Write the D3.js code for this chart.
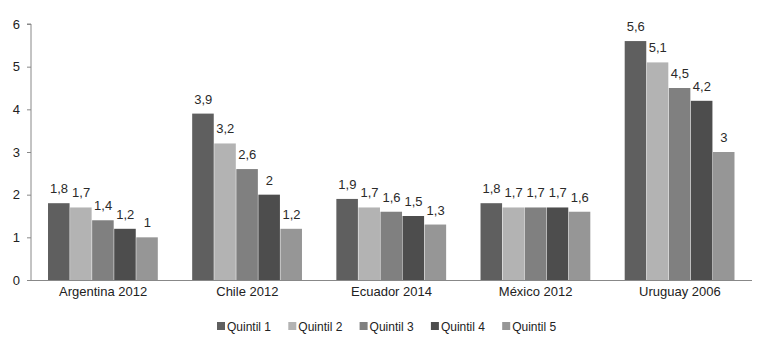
<!DOCTYPE html>
<html><head><meta charset="utf-8">
<script src="https://cdn.jsdelivr.net/npm/d3@7"></script>
<style>body{margin:0;background:#fff}svg{display:block}text{font-family:"Liberation Sans",Arial,sans-serif}</style>
</head><body><svg id="c" width="765" height="344"></svg>
<script>
const categories = ["Argentina 2012","Chile 2012","Ecuador 2014","México 2012","Uruguay 2006"];
const seriesNames = ["Quintil 1","Quintil 2","Quintil 3","Quintil 4","Quintil 5"];
const q1 = [1.8,3.9,1.9,1.8,5.6];
const q2 = [1.7,3.2,1.7,1.7,5.1];
const q3 = [1.4,2.6,1.6,1.7,4.5];
const q4 = [1.2,2.0,1.5,1.7,4.2];
const q5 = [1.0,1.2,1.3,1.6,3.0];
const yTicks = [0,1,2,3,4,5,6];
const colors = ["#5f5f5f","#b3b3b3","#808080","#4d4d4d","#969696"];
const series = [q1,q2,q3,q4,q5];

const svg = d3.select("#c");
const m = {l:31, r:13, t:24, b:64};
const W = 765, H = 344;
const x0 = d3.scaleBand().domain(categories).range([m.l, W-m.r]).paddingInner(0.235).paddingOuter(0.118);
const x1 = d3.scaleBand().domain(seriesNames).range([0, x0.bandwidth()]);
const y = d3.scaleLinear().domain([0,6]).range([H-m.b, m.t]);

// bars
categories.forEach((c,i)=>{
  const g = svg.append("g").attr("transform",`translate(${x0(c)},0)`);
  seriesNames.forEach((s,j)=>{
    const v = series[j][i];
    g.append("rect").attr("x",x1(s)).attr("y",y(v)).attr("width",x1.bandwidth()-0.5)
      .attr("height",y(0)-y(v)).attr("fill",colors[j]);
    g.append("text").attr("x",x1(s)+x1.bandwidth()/2).attr("y",y(v)-10)
      .attr("text-anchor","middle").attr("font-size",13).attr("fill","#2a2a2a")
      .text(String(v).replace(".",","));
  });
});

// y axis
const ya = svg.append("g").attr("transform",`translate(${m.l},0)`)
  .call(d3.axisLeft(y).tickValues(yTicks).tickSize(4).tickPadding(7).tickFormat(d=>d));
ya.select(".domain").attr("stroke","#888").attr("d",`M-4,${y(6)}H0V${y(0)}`);
ya.selectAll(".tick line").attr("stroke","#888");
ya.selectAll(".tick text").attr("font-size",13).attr("fill","#222").attr("font-family","Liberation Sans, Arial, sans-serif");

// x axis
const xa = svg.append("g").attr("transform",`translate(0,${y(0)})`)
  .call(d3.axisBottom(x0).tickSize(0).tickPadding(7));
xa.select(".domain").attr("stroke","#888").attr("d",`M${m.l},0.5H${W-m.r}`);
xa.selectAll(".tick text").attr("font-size",13).attr("fill","#222").attr("font-family","Liberation Sans, Arial, sans-serif");

// legend
const lg = svg.append("g").attr("transform","translate(217,326)");
seriesNames.forEach((s,j)=>{
  const gx = j*71.3;
  lg.append("rect").attr("x",gx).attr("y",-4).attr("width",8).attr("height",8).attr("fill",colors[j]);
  lg.append("text").attr("x",gx+10).attr("y",4.5).attr("font-size",12).attr("fill","#222").text(s);
});
</script></body></html>
